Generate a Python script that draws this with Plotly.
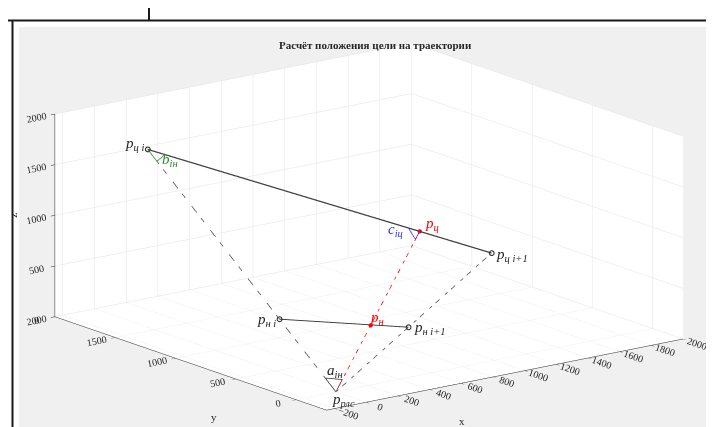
import plotly.graph_objects as go

# ---- axis settings (data units) ----
x_range = [-250, 2000]
y_range = [-250, 2000]
z_range = [0, 2000]
x_ticks = [-200, 0, 200, 400, 600, 800, 1000, 1200, 1400, 1600, 1800, 2000]
y_ticks = [0, 500, 1000, 1500, 2000]
z_ticks = [0, 500, 1000, 1500, 2000]

# ---- points (x, y, z) ----
p_rls = [0, 0, 0]          # радар
p_c_i = [298, 1951, 1500]  # цель i
p_c_i1 = [1327, 453, 770]  # цель i+1
p_c = [1112, 766, 923]     # цель (расчёт)
p_n_i = [89, 585, 450]
p_n_i1 = [618, 211, 359]
p_n = [461, 318, 383]

# angle markers (small triangles)
a_pts = [[17, 111, 86], [0, 0, 0], [85, 59, 71], [17, 111, 86]]
b_pts = [[283, 1855, 1427], [298, 1951, 1500], [350, 1876, 1463], [283, 1855, 1427]]
c_pts = [[1078, 816, 947], [1112, 766, 923], [1056, 728, 877], [1078, 816, 947]]

# axis-title anchor points
x_title_pt = [603, -250, 0]
y_title_pt = [-250, 677, 0]
z_title_pt = [-250, 2000, 1000]

SERIF = "Liberation Serif"
DARK = "#262626"


def col(pts, k):
    return [p[k] for p in pts]


def seg(pts, color, width, dash="solid", name=""):
    return go.Scatter3d(x=col(pts, 0), y=col(pts, 1), z=col(pts, 2), mode="lines",
                        line=dict(color=color, width=width, dash=dash),
                        showlegend=False, hoverinfo="skip", name=name)


traces = [
    seg([p_rls, p_c_i], "#4d4d4d", 1.5, "longdashdot"),
    seg([p_rls, p_c_i1], "#4d4d4d", 1.5, "longdashdot"),
    seg([p_rls, p_c], "#ff0000", 1.5, "longdashdot"),
    seg([p_c_i, p_c_i1], "#404040", 2.5),
    seg([p_n_i, p_n_i1], "#333333", 1.8),
    seg(a_pts, "#333333", 1.5),
    seg(b_pts, "#2e8b2e", 1.5),
    seg(c_pts, "#3030ff", 1.5),
]

open_pts = [p_c_i, p_c_i1, p_n_i, p_n_i1]
traces.append(go.Scatter3d(x=col(open_pts, 0), y=col(open_pts, 1), z=col(open_pts, 2),
                           mode="markers", marker=dict(symbol="circle-open", size=3, color="#262626",
                                                       line=dict(width=1, color="#262626")),
                           showlegend=False, hoverinfo="skip"))
red_pts = [p_c, p_n]
traces.append(go.Scatter3d(x=col(red_pts, 0), y=col(red_pts, 1), z=col(red_pts, 2),
                           mode="markers", marker=dict(symbol="circle", size=2.5, color="#ff0000"),
                           showlegend=False, hoverinfo="skip"))

fig = go.Figure(traces)


def lab(pt, text, color, xanchor, xshift, yshift, size=15, angle=0):
    return dict(x=pt[0], y=pt[1], z=pt[2], text=text, showarrow=False, textangle=angle,
                xanchor=xanchor, yanchor="middle", xshift=xshift, yshift=yshift,
                font=dict(family=SERIF, size=size, color=color))


annotations3d = [
    lab(p_c_i, "<i>p<sub>ц i</sub></i>", DARK, "right", -1, 5),
    lab(p_c_i1, "<i>p<sub>ц i+1</sub></i>", DARK, "left", 3, -2),
    lab(p_c, "<i>p<sub>ц</sub></i>", "#ff0000", "left", 3, 7),
    lab(c_pts[0], "<i>c<sub>iц</sub></i>", "#3030ff", "right", -3, -2),
    lab(b_pts[0], "<i>b<sub>iн</sub></i>", "#2e8b2e", "left", 3, 1),
    lab(p_n_i, "<i>p<sub>н i</sub></i>", DARK, "right", -1, -1),
    lab(p_n_i1, "<i>p<sub>н i+1</sub></i>", DARK, "left", 4, -1),
    lab(p_n, "<i>p<sub>н</sub></i>", "#ff0000", "left", -2, 7),
    lab(a_pts[0], "<i>a<sub>iн</sub></i>", DARK, "left", 0, 7),
    lab(p_rls, "<i>p<sub>рлс</sub></i>", DARK, "left", -6, -8),
    lab(x_title_pt, "x", DARK, "center", 0, -38, size=11),
    lab(y_title_pt, "y", DARK, "center", 0, -45, size=11),
    lab(z_title_pt, "z", DARK, "center", -41, 0, size=11, angle=-90),
]

axis_common = dict(showbackground=True, backgroundcolor="white", gridcolor="#e3e3e3", gridwidth=1,
                   showline=True, linecolor=DARK, linewidth=1, ticks="outside", ticklen=5,
                   tickcolor=DARK, tickfont=dict(family=SERIF, size=11, color=DARK),
                   zeroline=False, showspikes=False, title=dict(text=""))

e = (-0.5846, -0.7677, 0.2621)
r = 2.0
k = 2.15

fig.update_layout(
    width=714, height=427,
    margin=dict(l=0, r=0, t=0, b=0),
    paper_bgcolor="white",
    showlegend=False,
    scene=dict(
        domain=dict(x=[0.0106, 1.0], y=[0.0, 0.9766]),
        xaxis=dict(range=x_range, tickvals=x_ticks, **axis_common),
        yaxis=dict(range=y_range, tickvals=y_ticks, **axis_common),
        zaxis=dict(range=z_range, tickvals=z_ticks, **axis_common),
        aspectmode="manual",
        aspectratio=dict(x=1 * k, y=1 * k, z=0.4686 * k),
        camera=dict(eye=dict(x=e[0] * r, y=e[1] * r, z=e[2] * r), up=dict(x=0, y=0, z=1),
                    center=dict(x=0, y=0, z=0), projection=dict(type="orthographic")),
        annotations=annotations3d,
    ),
    shapes=[
        dict(type="rect", xref="paper", yref="paper", x0=11 / 714, x1=1, y0=0, y1=1 - 19 / 427,
             fillcolor="#f0f0f0", line=dict(width=0), layer="below"),
        dict(type="line", xref="paper", yref="paper", x0=0, x1=1, y0=1 - 12.5 / 427, y1=1 - 12.5 / 427,
             line=dict(color="#1a1a1a", width=2), layer="below"),
        dict(type="line", xref="paper", yref="paper", x0=4.5 / 714, x1=4.5 / 714, y0=0, y1=1 - 12 / 427,
             line=dict(color="#1a1a1a", width=2), layer="below"),
        dict(type="line", xref="paper", yref="paper", x0=141 / 714, x1=141 / 714, y0=1 - 12 / 427, y1=1,
             line=dict(color="#1a1a1a", width=2), layer="below"),
    ],
    annotations=[
        dict(x=368 / 714, y=1 - 36.7 / 427, xref="paper", yref="paper", showarrow=False,
             text="<b>Расчёт положения цели на траектории</b>", xanchor="center", yanchor="middle",
             font=dict(family=SERIF, size=11, color=DARK)),
    ],
)

fig.write_html("out.html")
